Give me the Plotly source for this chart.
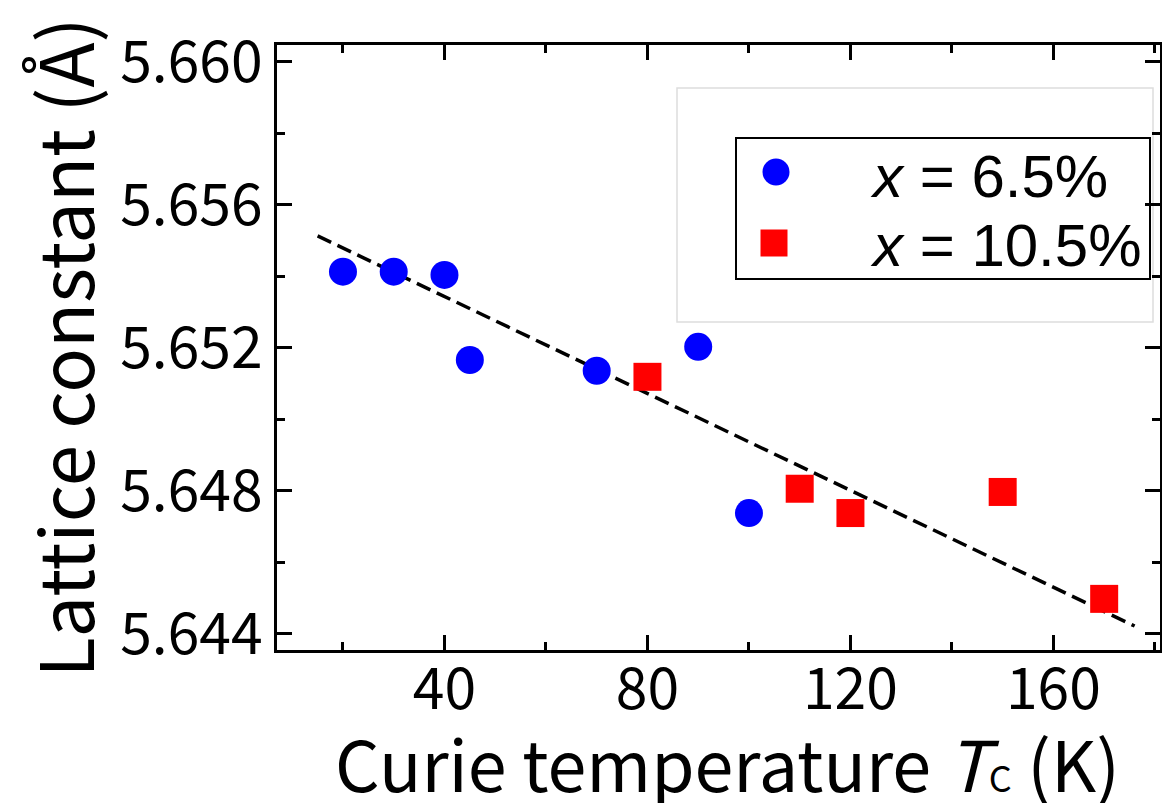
import plotly.graph_objects as go

# Data
tc_65 = [20, 30, 40, 45, 70, 90, 100]
a_65 = [5.65413, 5.65413, 5.65404, 5.65166, 5.65136, 5.65203, 5.64738]
tc_105 = [80, 110, 120, 150, 170]
a_105 = [5.65119, 5.64806, 5.64738, 5.64797, 5.64498]
fit_tc = [15, 176]
fit_a = [5.65513, 5.64422]

x_ticks = [40, 80, 120, 160]
y_ticks = [5.644, 5.648, 5.652, 5.656, 5.660]
series_names = ["<i>x</i> = 6.5%", "<i>x</i> = 10.5%"]
x_title = 'Curie temperature <i>T</i><span style="font-size:36px">C</span> (K)'
y_title = "Lattice constant (Å)"

TICK_FONT = "Noto Sans CJK JP"
LEG_FONT = "Liberation Sans, Arial"

# figure geometry (the page body adds an 8 px offset)
OFF = 8
W, H = 1170 - 2 * OFF, 811 - 2 * OFF
L, T = 277 - OFF, 45 - OFF
R = W - (1160 - OFF)
B = H - (650 - OFF)
PW, PH = W - L - R, H - T - B


def px(xs):
    return (xs - OFF - L) / PW


def py(ys):
    return (H - B - (ys - OFF)) / PH


fig = go.Figure()
fig.add_trace(go.Scatter(x=fit_tc, y=fit_a, mode="lines",
                         line=dict(color="black", width=3.5, dash="15px,7px"),
                         showlegend=False, hoverinfo="skip"))
fig.add_trace(go.Scatter(x=tc_65, y=a_65, mode="markers", name=series_names[0], showlegend=False,
                         marker=dict(symbol="circle", size=28, color="#0000ff")))
fig.add_trace(go.Scatter(x=tc_105, y=a_105, mode="markers", name=series_names[1], showlegend=False,
                         marker=dict(symbol="square", size=28, color="#ff0000")))

axis_common = dict(showline=True, linecolor="black", linewidth=3, mirror="ticks",
                   ticks="inside", ticklen=15, tickwidth=2.5, tickcolor="black",
                   showgrid=False, zeroline=False, automargin=False,
                   tickfont=dict(family=TICK_FONT, size=57, color="black"))

fig.update_xaxes(range=[7, 181], tickvals=x_ticks, ticktext=[str(v) for v in x_ticks],
                 ticklabelstandoff=-12,
                 minor=dict(dtick=20, tick0=0, ticks="inside", ticklen=8, tickwidth=2.5, tickcolor="black"),
                 **axis_common)
fig.update_yaxes(range=[5.64355, 5.66047], tickvals=y_ticks, ticktext=[f"{v:.3f}" for v in y_ticks],
                 minor=dict(dtick=0.002, tick0=5.644, ticks="inside", ticklen=8, tickwidth=2.5, tickcolor="black"),
                 title=dict(text=y_title,
                            font=dict(family=TICK_FONT, size=74, color="black"), standoff=26),
                 **axis_common)

# x-axis title, placed as a paper annotation so it can sit close to the bottom edge
fig.add_annotation(xref="paper", yref="paper", x=px(727), y=py(761), xanchor="center", yanchor="middle",
                   text=x_title, showarrow=False,
                   font=dict(family=TICK_FONT, size=70, color="black"))

# legend frame (outer faint box + inner black box)
fig.add_shape(type="rect", xref="paper", yref="paper", x0=px(677), x1=px(1153), y0=py(322), y1=py(88),
              line=dict(color="#dddddd", width=1.5), fillcolor="white", layer="below")
fig.add_shape(type="rect", xref="paper", yref="paper", x0=px(736), x1=px(1150), y0=py(279), y1=py(138),
              line=dict(color="black", width=2), fillcolor="rgba(0,0,0,0)")
# legend keys
fig.add_shape(type="circle", xref="paper", yref="paper", x0=px(762.5), x1=px(789.5), y0=py(185.5), y1=py(158.5),
              line=dict(width=0), fillcolor="#0000ff")
fig.add_shape(type="rect", xref="paper", yref="paper", x0=px(760.5), x1=px(787.5), y0=py(256.5), y1=py(229.5),
              line=dict(width=0), fillcolor="#ff0000")
for name, yc in zip(series_names, [176, 246]):
    fig.add_annotation(xref="paper", yref="paper", x=px(868), y=py(yc), xanchor="left", yanchor="middle",
                       text=name, showarrow=False,
                       font=dict(family=LEG_FONT, size=60, color="black"))

fig.update_layout(
    width=W, height=H,
    margin=dict(l=L, r=R, t=T, b=B),
    paper_bgcolor="white", plot_bgcolor="white",
    showlegend=False,
)

fig.write_html("out.html")
